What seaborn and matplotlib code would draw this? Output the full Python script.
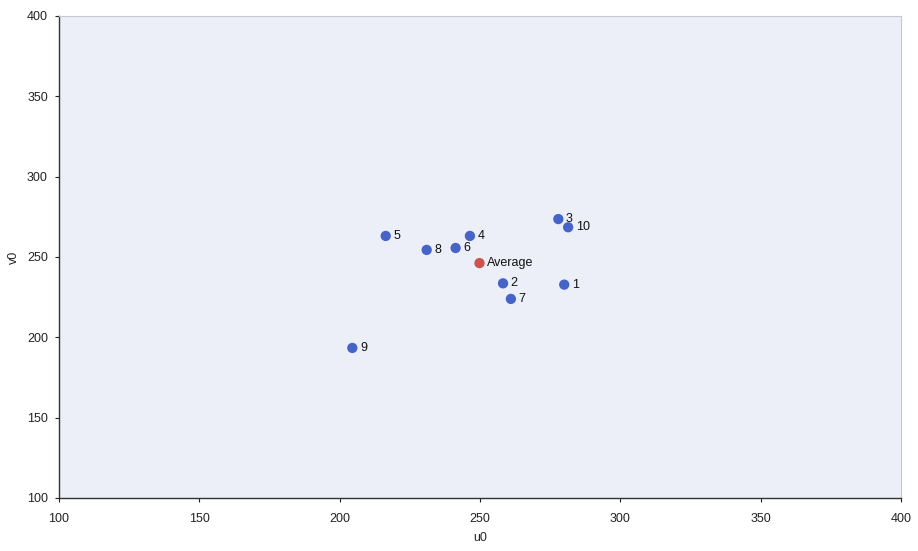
import numpy as np
import pandas as pd
import matplotlib
matplotlib.use("Agg")
import matplotlib.pyplot as plt
import seaborn as sns

# Principal point estimates (u0, v0) for each calibration run
labels = ["1", "2", "3", "4", "5", "6", "7", "8", "9", "10"]
u0 = [280.0, 258.2, 277.9, 246.4, 216.4, 241.3, 261.0, 231.0, 204.5, 281.4]
v0 = [232.8, 233.6, 273.6, 263.1, 263.1, 255.6, 223.9, 254.4, 193.4, 268.5]

df = pd.DataFrame({"u0": u0, "v0": v0, "label": labels, "kind": "run"})
avg = pd.DataFrame({"u0": [np.mean(u0)], "v0": [np.mean(v0)],
                    "label": ["Average"], "kind": ["avg"]})
data = pd.concat([df, avg], ignore_index=True)

sns.set_style("white")
plt.rcParams["font.family"] = ["Liberation Sans", "DejaVu Sans"]

fig = plt.figure(figsize=(9.18, 5.51), dpi=100)
ax = fig.add_axes([0.0643, 0.0962, 0.9172, 0.8748])
ax.set_facecolor("#eceef8")

sns.scatterplot(data=data, x="u0", y="v0", hue="kind",
                palette={"run": "#4664c8", "avg": "#d0524e"},
                s=55, edgecolor="none", legend=False, ax=ax)

for _, r in data.iterrows():
    ax.annotate(r["label"], (r["u0"], r["v0"]), xytext=(5.5, 0),
                textcoords="offset points", fontsize=9, va="center",
                color="#111111")

ax.set_xlim(100, 400)
ax.set_ylim(100, 400)
ax.set_xticks(range(100, 401, 50))
ax.set_yticks(range(100, 401, 50))
ax.tick_params(axis="both", direction="out", length=3, width=0.8,
               labelsize=9, colors="#222222", left=True, bottom=True)
ax.tick_params(axis="x", pad=8)
ax.tick_params(axis="y", pad=5)
ax.set_xlabel("u0", fontsize=9, labelpad=5)
ax.set_ylabel("v0", fontsize=9, labelpad=5)

for side in ("left", "bottom"):
    ax.spines[side].set_color("#333333")
    ax.spines[side].set_linewidth(1.0)
for side in ("top", "right"):
    ax.spines[side].set_color("#c8c8d0")
    ax.spines[side].set_linewidth(0.8)

fig.savefig("out.png", dpi=100, facecolor="white")
